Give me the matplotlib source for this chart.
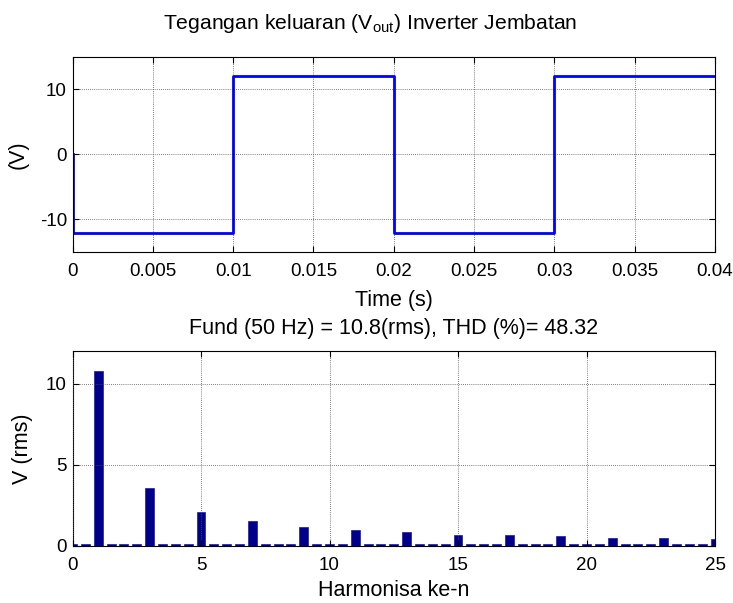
import numpy as np
import matplotlib
matplotlib.use('Agg')
import matplotlib.pyplot as plt

plt.rcParams['font.family'] = ['Liberation Sans', 'DejaVu Sans']
plt.rcParams['mathtext.fontset'] = 'custom'
plt.rcParams['mathtext.rm'] = 'Liberation Sans'
plt.rcParams['mathtext.it'] = 'Liberation Sans'
plt.rcParams['axes.unicode_minus'] = False

# sinyal tegangan keluaran (gelombang kotak)
waktu = [0.0, 0.0, 0.01, 0.01, 0.02, 0.02, 0.03, 0.03, 0.04]
tegangan = [0, -12, -12, 12, 12, -12, -12, 12, 12]

# spektrum harmonisa (orde tiap 0.5)
orde = np.arange(0, 25.5, 0.5)
v_rms = [0.1, 0.1, 10.8, 0.1, 0.1, 0.1, 3.58, 0.1, 0.1, 0.1,
         2.12, 0.1, 0.1, 0.1, 1.55, 0.1, 0.1, 0.1, 1.2, 0.1,
         0.1, 0.1, 0.97, 0.1, 0.1, 0.1, 0.84, 0.1, 0.1, 0.1,
         0.7, 0.1, 0.1, 0.1, 0.68, 0.1, 0.1, 0.1, 0.6, 0.1,
         0.1, 0.1, 0.5, 0.1, 0.1, 0.1, 0.48, 0.1, 0.1, 0.1, 0.44]

judul_atas = r'Tegangan keluaran (V$_{\mathrm{out}}$) Inverter Jembatan'
judul_bawah = 'Fund (50 Hz) = 10.8(rms), THD (%)= 48.32'

W, H = 733, 603
fig = plt.figure(figsize=(W / 100, H / 100), dpi=100)
# posisi sumbu dalam piksel
ax1 = fig.add_axes([72.5 / W, 1 - 252 / H, 642.5 / W, 195 / H])
ax2 = fig.add_axes([72.5 / W, 1 - 546 / H, 642.5 / W, 195 / H])

UKURAN_TEKS = 15.5
UKURAN_TICK = 13.5


def gaya_matlab(ax):
    ax.grid(True, color='#555555', linestyle=(0, (1, 1.5)), linewidth=0.6)
    ax.tick_params(direction='in', top=True, right=True, length=4,
                   labelsize=UKURAN_TICK, width=0.8)
    ax.tick_params(axis='x', pad=8)
    ax.tick_params(axis='y', pad=4)
    for s in ax.spines.values():
        s.set_linewidth(0.8)


ax1.plot(waktu, tegangan, color='#0000ff', linewidth=2)
ax1.set_xlim(0, 0.04)
ax1.set_ylim(-15, 15)
ax1.set_xticks(np.arange(0, 0.0401, 0.005))
ax1.set_xticklabels(['0', '0.005', '0.01', '0.015', '0.02', '0.025',
                     '0.03', '0.035', '0.04'])
ax1.set_yticks([-10, 0, 10])
ax1.set_ylabel('(V)', fontsize=UKURAN_TEKS)
ax1.yaxis.set_label_coords(-0.068, 0.5)
ax1.set_xlabel('Time (s)', fontsize=UKURAN_TEKS, labelpad=7)
ax1.set_title(judul_atas, fontsize=15.2, pad=20, x=(370 - 72.5) / 642.5)
gaya_matlab(ax1)

ax2.bar(orde, v_rms, width=0.35, color='#00008b', edgecolor='#1a1aa0',
        linewidth=0.5)
ax2.set_xlim(0, 25)
ax2.set_ylim(0, 12)
ax2.set_xticks([0, 5, 10, 15, 20, 25])
ax2.set_yticks([0, 5, 10])
ax2.set_ylabel('V (rms)', fontsize=UKURAN_TEKS)
ax2.yaxis.set_label_coords(-0.061, 0.5)
ax2.set_xlabel('Harmonisa ke-n', fontsize=UKURAN_TEKS, labelpad=4)
ax2.set_title(judul_bawah, fontsize=UKURAN_TEKS, pad=12)
gaya_matlab(ax2)
ax2.set_axisbelow(False)

fig.savefig('out.png', dpi=100)
